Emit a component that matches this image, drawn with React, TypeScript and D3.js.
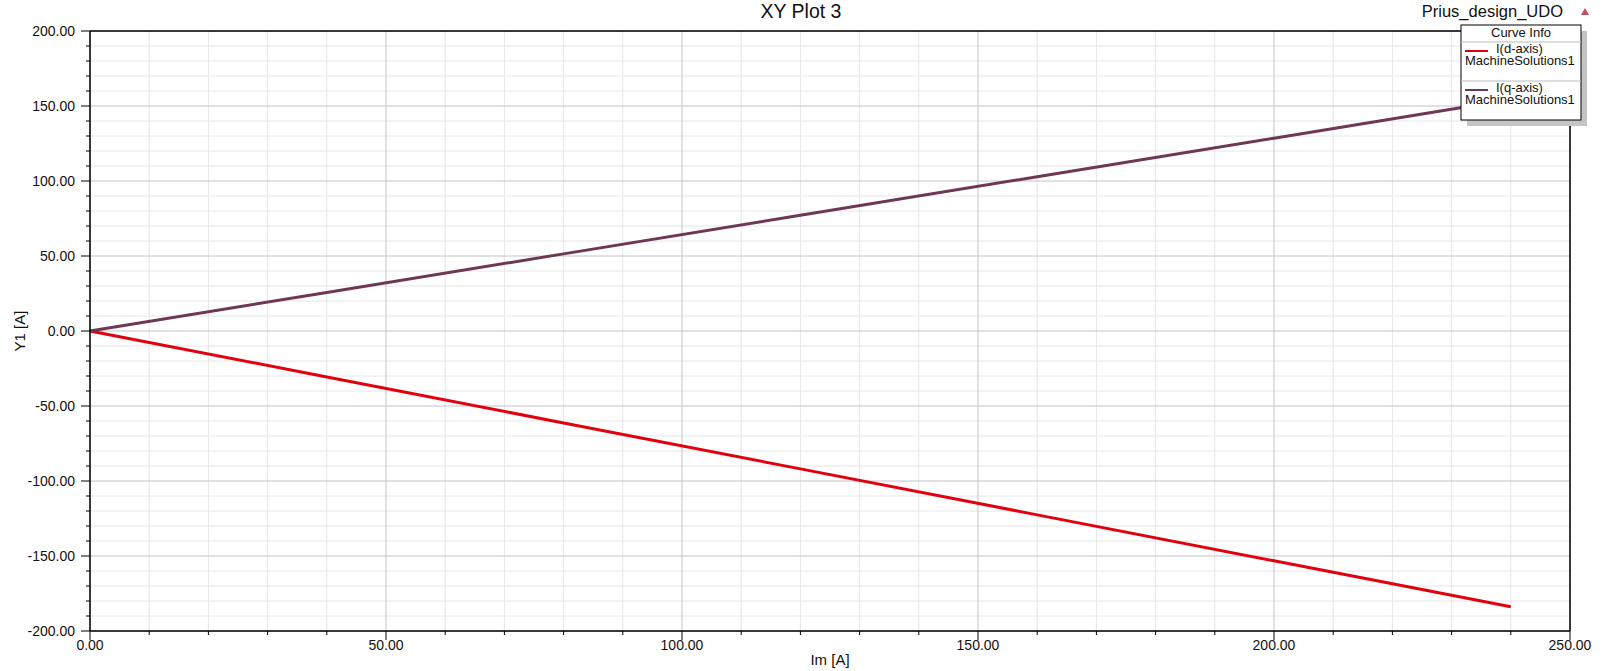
import React from "react";
import * as d3 from "d3";

const imValues = [0, 40, 80, 120, 160, 200, 240];
const idValues = [0, -30.64, -61.28, -91.93, -122.57, -153.21, -183.85];
const iqValues = [0, 25.71, 51.42, 77.13, 102.85, 128.56, 154.27];
const xTicks = [0, 50, 100, 150, 200, 250];
const yTicks = [-200, -150, -100, -50, 0, 50, 100, 150, 200];
const seriesNames = ["I(d-axis)", "I(q-axis)"];
const seriesColors = ["#e2000f", "#6e3854"];

const W = 1606, H = 671;
const L = 90, R = 1570, T = 31, B = 631;
const font = "Arial, 'Liberation Sans', sans-serif";

export default function App() {
  const x = d3.scaleLinear().domain([0, 250]).range([L, R]);
  const y = d3.scaleLinear().domain([-200, 200]).range([B, T]);
  const minorX = d3.range(0, 251, 10);
  const minorY = d3.range(-200, 201, 10);
  const line = d3.line<[number, number]>().x(d => x(d[0])).y(d => y(d[1]));
  const series = [idValues, iqValues].map(v => imValues.map((m, i) => [m, v[i]] as [number, number]));
  const fmt = (v: number) => v.toFixed(2);

  const lx = 1461, ly = 25, lw = 120, lh = 95;

  return (
    <svg width={W} height={H} style={{ position: "absolute", left: 0, top: 0, background: "#fff" }} fontFamily={font}>
      <rect x={0} y={0} width={W} height={H} fill="#fff" />
      {minorX.filter(v => v % 50 !== 0).map(v => (
        <line key={"mx" + v} x1={x(v)} x2={x(v)} y1={T} y2={B} stroke="#e6e6e6" strokeWidth={1} />
      ))}
      {minorY.filter(v => v % 50 !== 0).map(v => (
        <line key={"my" + v} x1={L} x2={R} y1={y(v)} y2={y(v)} stroke="#e6e6e6" strokeWidth={1} />
      ))}
      {xTicks.map(v => (
        <line key={"Mx" + v} x1={x(v)} x2={x(v)} y1={T} y2={B} stroke="#c4c4c4" strokeWidth={1} />
      ))}
      {yTicks.map(v => (
        <line key={"My" + v} x1={L} x2={R} y1={y(v)} y2={y(v)} stroke="#c4c4c4" strokeWidth={1} />
      ))}
      {series.map((s, i) => (
        <path key={i} d={line(s) || ""} fill="none" stroke={seriesColors[i]} strokeWidth={3} />
      ))}
      <line x1={L} x2={R} y1={T} y2={T} stroke="#000" strokeWidth={1.5} />
      <line x1={L} x2={R} y1={B} y2={B} stroke="#000" strokeWidth={1.5} />
      <line x1={L} x2={L} y1={T} y2={B} stroke="#000" strokeWidth={1.5} />
      <line x1={R} x2={R} y1={T} y2={B} stroke="#000" strokeWidth={1.5} />
      {minorX.map(v => (
        <line key={"tx" + v} x1={x(v)} x2={x(v)} y1={B} y2={B + (v % 50 === 0 ? 9 : 4)} stroke="#000" strokeWidth={1} />
      ))}
      {minorY.map(v => (
        <line key={"ty" + v} x1={L} x2={L - (v % 50 === 0 ? 9 : 4)} y1={y(v)} y2={y(v)} stroke="#000" strokeWidth={1} />
      ))}
      {xTicks.map(v => (
        <text key={"lx" + v} x={x(v)} y={650} textAnchor="middle" fontSize={14} fill="#111">{fmt(v)}</text>
      ))}
      {yTicks.map(v => (
        <text key={"ly" + v} x={75} y={y(v) + 5} textAnchor="end" fontSize={14} fill="#111">{fmt(v)}</text>
      ))}
      <text x={830} y={665} textAnchor="middle" fontSize={15} fill="#111">Im [A]</text>
      <text transform={`translate(25, ${(T + B) / 2}) rotate(-90)`} textAnchor="middle" fontSize={15} fill="#111">Y1 [A]</text>
      <text x={801} y={18} textAnchor="middle" fontSize={19.5} fill="#111">XY Plot 3</text>
      <text x={1563} y={17} textAnchor="end" fontSize={16.5} fill="#111">Prius_design_UDO</text>
      <path d="M1585,8 L1589,15 L1581,15 Z" fill="#c05060" />
      <rect x={lx + 6} y={ly + 6} width={lw} height={lh} fill="#c4c4c4" />
      <rect x={lx} y={ly} width={lw} height={lh} fill="#fff" stroke="#000" strokeWidth={1} />
      <text x={lx + lw / 2} y={ly + 12} textAnchor="middle" fontSize={13} fill="#111">Curve Info</text>
      <line x1={lx} x2={lx + lw} y1={ly + 17} y2={ly + 17} stroke="#bbb" />
      <line x1={lx} x2={lx + lw} y1={ly + 56} y2={ly + 56} stroke="#bbb" />
      {seriesNames.map((n, i) => {
        const oy = ly + 17 + i * 39;
        return (
          <g key={n}>
            <line x1={lx + 4} x2={lx + 27} y1={oy + 9} y2={oy + 9} stroke={seriesColors[i]} strokeWidth={2} />
            <text x={lx + 35} y={oy + 11} fontSize={13} fill="#111">{n}</text>
            <text x={lx + 4} y={oy + 23} fontSize={13} fill="#111">MachineSolutions1</text>
          </g>
        );
      })}
    </svg>
  );
}
